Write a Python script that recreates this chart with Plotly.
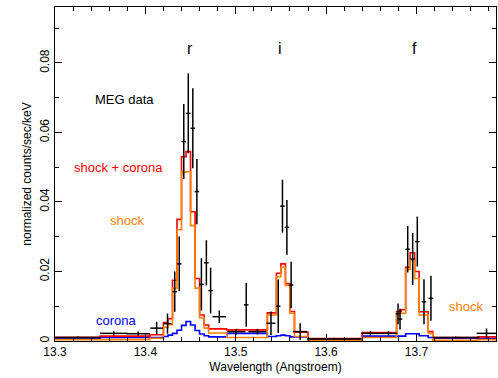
import plotly.graph_objects as go

# ---------------- data crosses (MEG data) ----------------
data_wl = [13.3255, 13.365, 13.392, 13.4125, 13.4245, 13.4325, 13.4375, 13.4425, 13.4475,
           13.4525, 13.4570, 13.4620, 13.4675, 13.4722, 13.4818, 13.5006, 13.5116, 13.5240,
           13.5390, 13.5470, 13.5517, 13.5566, 13.5613, 13.5713, 13.6090, 13.6490, 13.6690,
           13.6796, 13.6818, 13.6903, 13.6958, 13.7009, 13.7083, 13.7160, 13.7435, 13.7775]
data_val = [0.0010, 0.0022, 0.0021, 0.0037, 0.0050, 0.0142, 0.0222, 0.0574, 0.0655,
            0.0612, 0.0430, 0.0163, 0.0225, 0.0145, 0.0070, 0.0027, 0.0104, 0.0027,
            0.0051, 0.0100, 0.0388, 0.0327, 0.0161, 0.0027, 0.0006, 0.0022, 0.0022,
            0.0078, 0.0063, 0.0264, 0.0236, 0.0286, 0.0113, 0.0123, 0.0010, 0.0022]
data_xerr = [0.025, 0.015, 0.013, 0.007, 0.0045, 0.0025, 0.0025, 0.0025, 0.0025,
             0.0025, 0.0025, 0.0025, 0.0025, 0.0025, 0.0075, 0.010, 0.0025, 0.010,
             0.005, 0.0025, 0.0025, 0.0025, 0.0025, 0.008, 0.030, 0.010, 0.010,
             0.0025, 0.0025, 0.0025, 0.0025, 0.0025, 0.0025, 0.0025, 0.026, 0.011]
data_yerr = [0.0003, 0.0006, 0.0006, 0.0018, 0.0029, 0.0058, 0.0079, 0.0108, 0.0115,
             0.0115, 0.0094, 0.0075, 0.0065, 0.0066, 0.0018, 0.0008, 0.0063, 0.0008,
             0.0034, 0.0077, 0.0076, 0.0079, 0.0067, 0.0024, 0.0003, 0.0006, 0.0006,
             0.0030, 0.0030, 0.0067, 0.0075, 0.0072, 0.0065, 0.0065, 0.0003, 0.0014]

# ---------------- model histograms (bin edges + bin values) ----------------
edges = [13.300, 13.350, 13.405, 13.420, 13.425, 13.430, 13.435, 13.440, 13.445, 13.450,
         13.455, 13.460, 13.465, 13.470, 13.490, 13.535, 13.540, 13.545, 13.550, 13.555,
         13.560, 13.565, 13.580, 13.640, 13.678, 13.683, 13.688, 13.693, 13.698, 13.703,
         13.708, 13.713, 13.718, 13.768, 13.788]

shock = [0.0004, 0.0004, 0.0008, 0.0040, 0.0047, 0.0152, 0.0320, 0.0486, 0.0487,
         0.0332, 0.0152, 0.0066, 0.0037, 0.0023, 0.0010, 0.0075, 0.0075, 0.0185,
         0.0212, 0.0160, 0.0080, 0.0013, 0.0002, 0.0010, 0.0080, 0.0080, 0.0206,
         0.0233, 0.0180, 0.0075, 0.0075, 0.0022, 0.0002, 0.0004]

corona = [0.0007, 0.0010, 0.0010, 0.0013, 0.0017, 0.0022, 0.0031, 0.0045, 0.0056,
          0.0046, 0.0030, 0.0020, 0.0015, 0.0012, 0.0022, 0.0013, 0.0013, 0.0015,
          0.0017, 0.0015, 0.0012, 0.0012, 0.0005, 0.0014, 0.0014, 0.0014, 0.0021,
          0.0021, 0.0021, 0.0015, 0.0015, 0.0010, 0.0008, 0.0008]

shock_corona = [0.0011, 0.0014, 0.0018, 0.0053, 0.0064, 0.0175, 0.0350, 0.0530, 0.0545,
                0.0372, 0.0180, 0.0075, 0.0046, 0.0035, 0.0032, 0.0081, 0.0081, 0.0195,
                0.0222, 0.0165, 0.0085, 0.0025, 0.0007, 0.0024, 0.0085, 0.0090, 0.0212,
                0.0254, 0.0200, 0.0084, 0.0084, 0.0027, 0.0010, 0.0012]

x_tick_vals = [13.3, 13.4, 13.5, 13.6, 13.7]
x_tick_text = ["13.3", "13.4", "13.5", "13.6", "13.7"]
y_tick_vals = [0, 0.02, 0.04, 0.06, 0.08]
y_tick_text = ["0", "0.02", "0.04", "0.06", "0.08"]


def step_y(vals):
    return list(vals) + [vals[-1]]


FONT = "Liberation Sans, Arial, Helvetica, sans-serif"

fig = go.Figure()
fig.add_trace(go.Scatter(x=edges, y=step_y(corona), mode="lines", line_shape="hv",
                         line=dict(color="#0000ff", width=1.6), hoverinfo="skip"))
fig.add_trace(go.Scatter(x=edges, y=step_y(shock_corona), mode="lines", line_shape="hv",
                         line=dict(color="#ff0000", width=1.6), hoverinfo="skip"))
fig.add_trace(go.Scatter(x=edges, y=step_y(shock), mode="lines", line_shape="hv",
                         line=dict(color="#ff8000", width=1.6), hoverinfo="skip"))
fig.add_trace(go.Scatter(
    x=data_wl, y=data_val, mode="markers",
    marker=dict(size=1, color="black", opacity=0),
    error_x=dict(type="data", array=data_xerr, width=0, thickness=1.5, color="black"),
    error_y=dict(type="data", array=data_yerr, width=0, thickness=1.5, color="black"),
    hoverinfo="skip"))

labels = [
    ("r", 13.4497, 0.0843, "black", 16),
    ("i", 13.5492, 0.0843, "black", 16),
    ("f", 13.6983, 0.0843, "black", 16),
    ("MEG data", 13.3768, 0.0696, "black", 13),
    ("shock + corona", 13.3707, 0.0498, "#ff0000", 13),
    ("shock", 13.380, 0.0348, "#ff8000", 13),
    ("corona", 13.368, 0.0058, "#0000ff", 13),
    ("shock", 13.7547, 0.0098, "#ff8000", 13),
]
for txt, lx, ly, col, fs in labels:
    fig.add_annotation(x=lx, y=ly, xref="x", yref="y", text=txt, showarrow=False,
                       font=dict(family=FONT, size=fs, color=col),
                       xanchor="center", yanchor="middle")

fig.update_layout(
    width=498, height=378,
    margin=dict(l=55, r=2, t=7, b=37, autoexpand=False),
    paper_bgcolor="white", plot_bgcolor="white",
    showlegend=False,
    font=dict(family=FONT, size=12, color="black"),
    xaxis=dict(range=[13.3, 13.788], tickvals=x_tick_vals, ticktext=x_tick_text,
               ticks="inside", ticklen=7, tickwidth=1, tickcolor="black",
               minor=dict(ticks="inside", ticklen=4, dtick=0.02, tickcolor="black"),
               showline=True, linecolor="black", linewidth=1, mirror="allticks",
               showgrid=False, zeroline=False, automargin=False,
               tickfont=dict(family=FONT, size=12),
               title=dict(text="Wavelength (Angstroem)", font=dict(family=FONT, size=12),
                          standoff=4)),
    yaxis=dict(range=[0, 0.0961], tickvals=y_tick_vals, ticktext=y_tick_text,
               ticks="inside", ticklen=7, tickwidth=1, tickcolor="black",
               minor=dict(ticks="inside", ticklen=4, dtick=0.01, tickcolor="black"),
               showline=True, linecolor="black", linewidth=1, mirror="allticks",
               showgrid=False, zeroline=False, tickangle=-90, automargin=False,
               tickfont=dict(family=FONT, size=12),
               title=dict(text="normalized counts/sec/keV", font=dict(family=FONT, size=12),
                          standoff=4)),
)

fig.write_html("out.html",
               config={"displayModeBar": False, "staticPlot": True},
               post_script="document.body.style.margin='0';document.body.style.padding='0';")
